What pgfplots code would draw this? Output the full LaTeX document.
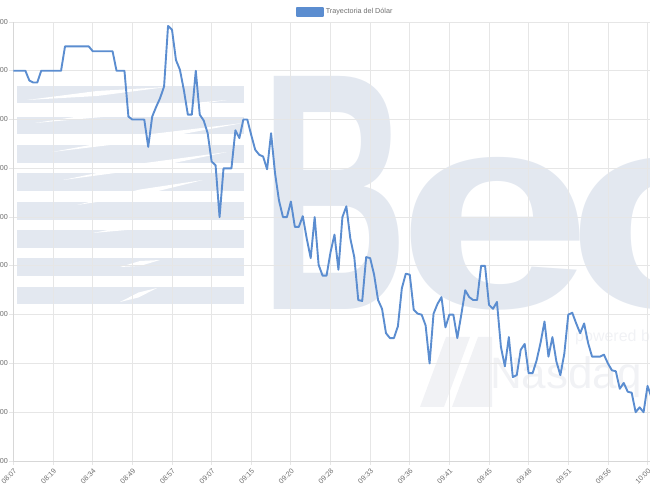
\documentclass[border=0pt]{standalone}
\usepackage{pgfplots}
\pgfplotsset{compat=1.18}
\usepackage{fontspec}
\setmainfont{Liberation Sans}
\definecolor{linec}{RGB}{91,141,208}
\definecolor{wm}{RGB}{227,232,240}
\definecolor{wm2}{RGB}{241,242,245}
\definecolor{gridc}{RGB}{230,230,230}
\definecolor{axc}{RGB}{215,215,215}
\definecolor{labc}{RGB}{110,110,110}
\pgfplotstableread{
n v
0 3940.0
3 3940.0
4 3939.0
5 3938.8
6 3938.8
7 3940.0
12 3940.0
13 3942.5
19 3942.5
20 3942.0
25 3942.0
26 3940.0
28 3940.0
29 3935.3
30 3935.0
33 3935.0
34 3932.2
35 3935.3
36 3936.3
37 3937.2
38 3938.4
39 3944.6
40 3944.2
41 3941.1
42 3940.1
43 3938.0
44 3935.5
45 3935.5
46 3940.0
47 3935.5
48 3934.9
49 3933.6
50 3930.7
51 3930.3
52 3925.0
53 3930.0
55 3930.0
56 3933.9
57 3933.1
58 3935.0
59 3935.0
60 3933.4
61 3931.9
62 3931.4
63 3931.2
64 3929.9
65 3933.6
66 3929.5
67 3926.7
68 3925.0
69 3925.0
70 3926.6
71 3924.0
72 3924.0
73 3925.1
74 3922.8
75 3920.8
76 3925.0
77 3920.1
78 3919.0
79 3919.0
80 3921.4
81 3923.2
82 3919.6
83 3925.0
84 3926.1
85 3922.8
86 3920.9
87 3916.5
88 3916.4
89 3920.9
90 3920.8
91 3919.1
92 3916.5
93 3915.6
94 3913.1
95 3912.6
96 3912.6
97 3913.8
98 3917.7
99 3919.2
100 3919.1
101 3915.5
102 3915.1
103 3915.0
104 3913.9
105 3910.0
106 3915.1
107 3916.1
108 3916.8
109 3913.7
110 3915.0
111 3915.0
112 3912.6
113 3915.0
114 3917.5
115 3916.8
116 3916.5
117 3916.5
118 3920.0
119 3920.0
120 3916.0
121 3915.6
122 3916.3
123 3911.7
124 3909.7
125 3912.7
126 3908.6
127 3908.8
128 3911.4
129 3912.0
130 3909.0
131 3909.0
132 3910.3
133 3912.1
134 3914.3
135 3910.7
136 3912.7
137 3910.2
138 3908.8
139 3911.0
140 3915.0
141 3915.2
142 3914.1
143 3913.1
144 3914.1
145 3912.1
146 3910.7
147 3910.7
148 3910.7
149 3910.9
150 3910.0
151 3909.3
152 3909.2
153 3907.4
154 3908.0
155 3907.1
156 3907.0
157 3905.0
158 3905.5
159 3905.0
160 3907.7
161 3906.5
}\dolar
\begin{document}
\begin{tikzpicture}
% background watermark (logo), drawn in picture pixels with y measured from the bottom
\begin{scope}[x=1pt,y=1pt]
\foreach \a/\b in {384/401,353/370,324/342,296/314,267/285,239/257,211/229,183/200}{
  \fill[wm] (16.6,\a) rectangle (244,\b);
}
\foreach \xa/\ya/\xb/\yb/\t in {27/387/167/400/5, 35/364/227/387/6, 52/335/243/364/6, 63/307/227/335/6, 77/282/203/307/6, 93/254/183/267/5, 120/220/160/227/5, 120/185/157/199/5}{
  \fill[white] (\xa,\ya) -- ({0.5*(\xa+\xb)},{0.5*(\ya+\yb)-\t/2}) -- (\xb,\yb) -- ({0.5*(\xa+\xb)},{0.5*(\ya+\yb)+\t/2}) -- cycle;
}
\node[inner sep=0pt,anchor=south west,text=wm] at (260,177) {\resizebox{148pt}{233pt}{\bfseries B}};
\node[inner sep=0pt,anchor=south west,text=wm] at (397,177) {\resizebox{194pt}{150pt}{\bfseries e}};
\node[inner sep=0pt,anchor=south west,text=wm] at (566,177) {\resizebox{196pt}{150pt}{\bfseries c}};
\node[inner sep=0pt,anchor=west,text=wm2,font=\fontsize{16}{18}\selectfont] at (575,150) {powered by};
\node[inner sep=0pt,anchor=west,text=wm2,font=\fontsize{44}{48}\selectfont] at (490,110) {Nasdaq};
\fill[wm2] (420,80) -- (446,150) -- (470,150) -- (444,80) -- cycle;
\fill[wm2] (452,80) -- (478,150) -- (492,150) -- (492,80) -- cycle;
\end{scope}
\begin{axis}[
  at={(13.5pt,26pt)}, anchor=south west,
  scale only axis, width=636.4pt, height=439pt,
  xmin=0, xmax=160.6, ymin=3900, ymax=3945,
  axis lines=left, axis line style={-, draw=axc, line width=0.8pt},
  grid=major, major grid style={draw=gridc, line width=0.8pt},
  tick align=outside, major tick length=4pt,
  tick style={draw=gridc, line width=0.8pt},
  xtick={0,10,...,160},
  xticklabels={08:07,08:19,08:34,08:49,08:57,09:07,09:15,09:20,09:28,09:33,09:36,09:41,09:45,09:48,09:51,09:56,10:00},
  ytick={3900,3905,...,3945},
  /pgf/number format/assume math mode=true,
  /pgf/number format/fixed,
  /pgf/number format/fixed zerofill,
  /pgf/number format/precision=2,
  /pgf/number format/1000 sep={,},
  yticklabel style={font=\fontsize{7.2}{8}\selectfont, text=labc, anchor=east, inner sep=0pt, xshift=-1.5pt},
  xticklabel style={font=\fontsize{7.2}{8}\selectfont, text=labc, rotate=45, anchor=north east, inner sep=0pt, yshift=-2pt, xshift=-2pt},
  clip=true,
  legend style={at={(0.444,1)}, anchor=west, yshift=10pt, draw=none, fill=none, inner sep=0pt,
    font=\fontsize{7.2}{8}\selectfont, text=labc},
  legend image code/.code={\fill[linec] (0pt,-3.7pt) rectangle (25.7pt,3.7pt);},
]
\addplot[linec, line width=1.9pt, line join=round, sharp plot] table[x=n, y=v] {\dolar};
\addlegendentry{Trayectoria del Dólar}
\end{axis}
\pgfresetboundingbox
\path[use as bounding box] (0,0) rectangle (650pt,487pt);
\end{tikzpicture}
\end{document}
